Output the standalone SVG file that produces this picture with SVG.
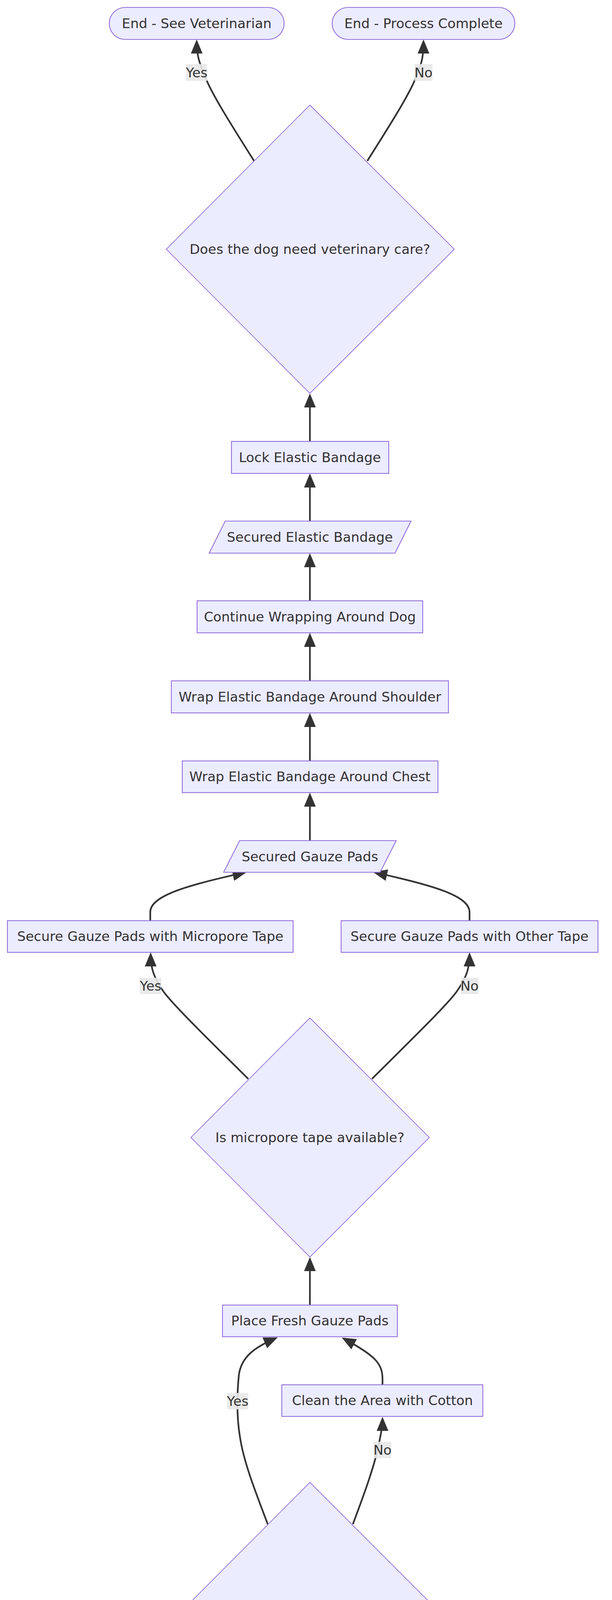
<svg xmlns="http://www.w3.org/2000/svg" width="1568" height="5238" viewBox="0 0 1568 5238">
<style>
.n{fill:#ECECFF;stroke:#9370DB;stroke-width:2.2}
.d{fill:#ECECFF;stroke:#9370DB;stroke-width:1.8}
.t{font-family:"DejaVu Sans",sans-serif;font-size:34.3px;fill:#333333;text-anchor:middle}
.e{fill:none;stroke:#333333;stroke-width:4.3;marker-end:url(#arr)}
.lb{fill:#E8E8E8;opacity:0.9}
</style>
<defs>
<marker id="arr" viewBox="0 0 12 10" refX="10" refY="5" markerWidth="36" markerHeight="30" markerUnits="userSpaceOnUse" orient="auto">
<path d="M0,0 L12,5 L0,10 z" fill="#333333"/>
</marker>
</defs>
<rect width="1568" height="5238" fill="#FFFFFF"/>
<g id="connectors">
<path class="e" d="M794,5081 L794,4965"/>
<path class="e" d="M794,4877 L794,4760"/>
<path class="e" d="M794,4672 L794,4557"/>
<path class="e" d="M686,3902 C655,3820 625,3745 615,3680 C605,3620 608,3560 612,3520 C618,3475 650,3450 706,3426"/>
<path class="e" d="M904,3902 C935,3820 962,3745 972,3690 C978,3660 980,3650 980,3633"/>
<path class="e" d="M980,3545 L980,3530 C980,3490 960,3470 881,3427"/>
<path class="e" d="M794,3341 L794,3224"/>
<path class="e" d="M636,2762 C560,2686 450,2580 420,2540 C395,2505 386,2480 386,2444"/>
<path class="e" d="M953,2762 C1029,2686 1139,2580 1169,2540 C1194,2505 1203,2480 1203,2444"/>
<path class="e" d="M385,2357 L385,2335 C385,2295 470,2268 626,2234"/>
<path class="e" d="M1203,2357 L1203,2335 C1203,2295 1118,2268 962,2234"/>
<path class="e" d="M794,2152 L794,2035"/>
<path class="e" d="M794,1948 L794,1831"/>
<path class="e" d="M794,1743 L794,1626"/>
<path class="e" d="M794,1538 L794,1422"/>
<path class="e" d="M794,1334 L794,1218"/>
<path class="e" d="M794,1130 L794,1013"/>
<path class="e" d="M651,412 C580,300 540,235 525,195 C510,160 504,140 504,107"/>
<path class="e" d="M941,412 C1012,300 1052,235 1067,195 C1082,160 1085,140 1085,107"/>
</g>
<g id="edge-labels">
<rect class="lb" x="477" y="164" width="54" height="43"/>
<text class="t" x="504" y="198">Yes</text>
<rect class="lb" x="1062" y="164" width="46" height="43"/>
<text class="t" x="1085" y="198">No</text>
<rect class="lb" x="358" y="2503" width="55" height="42"/>
<text class="t" x="386" y="2536">Yes</text>
<rect class="lb" x="1181" y="2503" width="45" height="42"/>
<text class="t" x="1203" y="2536">No</text>
<rect class="lb" x="582" y="3566" width="54" height="42"/>
<text class="t" x="609" y="3599">Yes</text>
<rect class="lb" x="957" y="3691" width="45" height="42"/>
<text class="t" x="980" y="3724">No</text>
</g>
<g id="end-vet">
<rect class="n" x="280" y="19" width="448" height="82" rx="41" ry="41"/>
<text class="t" x="504" y="72">End - See Veterinarian</text>
</g>
<g id="end-complete">
<rect class="n" x="851" y="19" width="468" height="82" rx="41" ry="41"/>
<text class="t" x="1085" y="72">End - Process Complete</text>
</g>
<g id="q-vet">
<polygon class="d" points="794,269 1164,638 794,1007 426,638"/>
<text class="t" x="794" y="650">Does the dog need veterinary care?</text>
</g>
<g id="lock">
<rect class="n" x="593" y="1130" width="403" height="82"/>
<text class="t" x="794" y="1183">Lock Elastic Bandage</text>
</g>
<g id="secured-elastic">
<polygon class="n" points="577,1334 1053,1334 1012,1416 536,1416"/>
<text class="t" x="794" y="1387">Secured Elastic Bandage</text>
</g>
<g id="continue">
<rect class="n" x="505" y="1538" width="578" height="82"/>
<text class="t" x="794" y="1591">Continue Wrapping Around Dog</text>
</g>
<g id="shoulder">
<rect class="n" x="439" y="1743" width="710" height="82"/>
<text class="t" x="794" y="1796">Wrap Elastic Bandage Around Shoulder</text>
</g>
<g id="chest">
<rect class="n" x="467" y="1948" width="655" height="81"/>
<text class="t" x="794" y="2000">Wrap Elastic Bandage Around Chest</text>
</g>
<g id="secured-gauze">
<polygon class="n" points="614,2152 1015,2152 974,2233 573,2233"/>
<text class="t" x="794" y="2205">Secured Gauze Pads</text>
</g>
<g id="micropore">
<rect class="n" x="19" y="2357" width="732" height="81"/>
<text class="t" x="385" y="2409">Secure Gauze Pads with Micropore Tape</text>
</g>
<g id="other-tape">
<rect class="n" x="874" y="2357" width="658" height="81"/>
<text class="t" x="1203" y="2409">Secure Gauze Pads with Other Tape</text>
</g>
<g id="q-tape">
<polygon class="d" points="794,2606 1100,2912 794,3218 489,2912"/>
<text class="t" x="794" y="2924">Is micropore tape available?</text>
</g>
<g id="place">
<rect class="n" x="570" y="3341" width="448" height="81"/>
<text class="t" x="794" y="3393">Place Fresh Gauze Pads</text>
</g>
<g id="clean">
<rect class="n" x="722" y="3545" width="515" height="81"/>
<text class="t" x="980" y="3597">Clean the Area with Cotton</text>
</g>
<g id="q-clean">
<polygon class="d" points="794,3795 1172,4173 794,4551 417,4173"/>
<text class="t" x="794" y="4185">Is the area around the wound clean?</text>
</g>
<g id="apply">
<rect class="n" x="443" y="4672" width="703" height="82"/>
<text class="t" x="794" y="4725">Apply Pressure with Sterile Gauze Pad</text>
</g>
<g id="gather">
<polygon class="n" points="573,4877 1056,4877 1015,4959 532,4959"/>
<text class="t" x="794" y="4930">Gather First Aid Supplies</text>
</g>
<g id="start">
<rect class="n" x="723" y="5081" width="142" height="82" rx="41" ry="41"/>
<text class="t" x="794" y="5134">Start</text>
</g>
</svg>
